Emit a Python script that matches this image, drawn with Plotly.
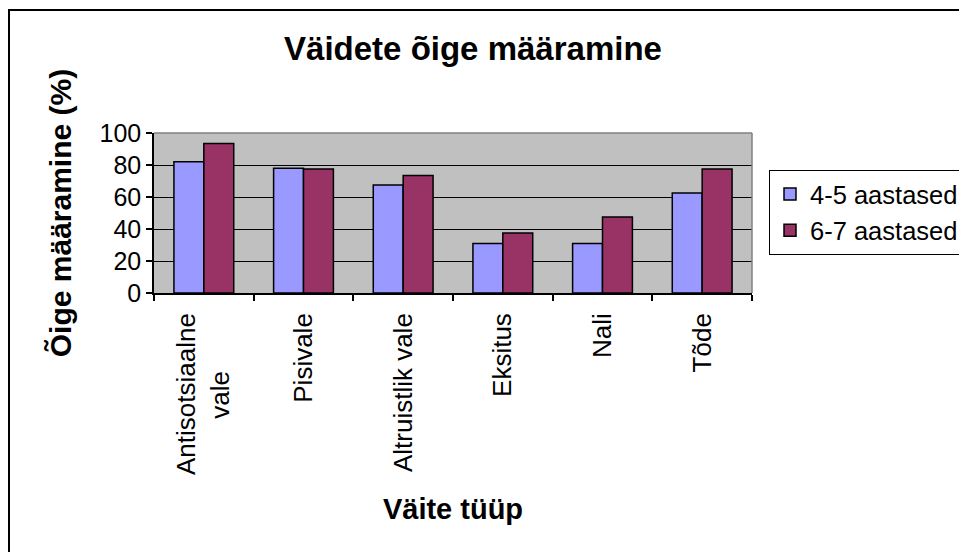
import plotly.graph_objects as go

NB = "\u00a0"
categories = ["Antisotsiaalne<br>vale" + NB * 8, "Pisivale", "Altruistlik vale", "Eksitus", "Nali", "Tõde"]
series_names = ["4-5 aastased", "6-7 aastased"]
values_45 = [82, 78, 67.5, 31, 31, 62.5]
values_67 = [93.5, 77.5, 73.5, 37.5, 47.5, 77.5]
colors = ["#9999FF", "#993366"]
y_ticks = [0, 20, 40, 60, 80, 100]

W, H = 959, 552
L, R, T, B = 154, 752, 133, 293

fig = go.Figure()
for name, vals, col in zip(series_names, [values_45, values_67], colors):
    fig.add_trace(go.Bar(
        x=categories, y=vals, name=name,
        marker=dict(color=col, line=dict(color="black", width=1.5)),
    ))

font_family = "Liberation Sans, Arial, sans-serif"

fig.update_layout(
    width=W, height=H,
    margin=dict(l=L, r=W - R, t=T, b=H - B, autoexpand=False),
    paper_bgcolor="white",
    plot_bgcolor="#C0C0C0",
    barmode="group",
    bargap=0.4,
    bargroupgap=0,
    font=dict(family=font_family, size=25, color="black"),
    title=dict(text="<b>Väidete õige määramine</b>", x=(473 - L) / (R - L), xref="paper",
               xanchor="center", y=1 - 48 / H, yanchor="middle",
               font=dict(size=33)),
    showlegend=True,
    legend=dict(
        x=(769 - L) / (R - L), y=(B - 170) / (B - T), xanchor="left", yanchor="top",
        bordercolor="black", borderwidth=1, bgcolor="white",
        font=dict(size=25.5), tracegroupgap=0, itemwidth=30,
    ),
    xaxis=dict(
        showline=True, linecolor="black", linewidth=1.5,
        ticks="outside", ticklen=6, tickwidth=1.5, tickcolor="black",
        tickson="boundaries", tickangle=-90, ticklabelstandoff=8,
        tickfont=dict(size=26),
        title=dict(text="<b>Väite tüüp</b>", font=dict(size=29), standoff=25),
        mirror=False,
    ),
    yaxis=dict(
        range=[0, 100], tickvals=y_ticks,
        showline=True, linecolor="black", linewidth=1.5,
        ticks="outside", ticklen=6, tickwidth=1.5, tickcolor="black",
        showgrid=True, gridcolor="black", gridwidth=1.2,
        tickfont=dict(size=25),
        title=dict(text="<b>Õige määramine (%)</b>", font=dict(size=30), standoff=19),
        zeroline=False,
    ),
)

# plot area top/right border (gray)
fig.add_shape(type="line", xref="paper", yref="paper", x0=0, x1=1, y0=1, y1=1,
              line=dict(color="#808080", width=1.5))
fig.add_shape(type="line", xref="paper", yref="paper", x0=1, x1=1, y0=0, y1=1,
              line=dict(color="#808080", width=1.5))
# outer chart border
fig.add_shape(type="rect", xref="paper", yref="paper",
              x0=(9 - L) / (R - L), x1=(985 - L) / (R - L),
              y0=(B - 570) / (B - T), y1=(B - 10) / (B - T),
              line=dict(color="black", width=2), fillcolor="rgba(0,0,0,0)", layer="above")

fig.write_html(
    "out.html",
    config={"displayModeBar": False},
    post_script="document.body.style.margin='0';document.body.style.overflow='hidden';",
)
